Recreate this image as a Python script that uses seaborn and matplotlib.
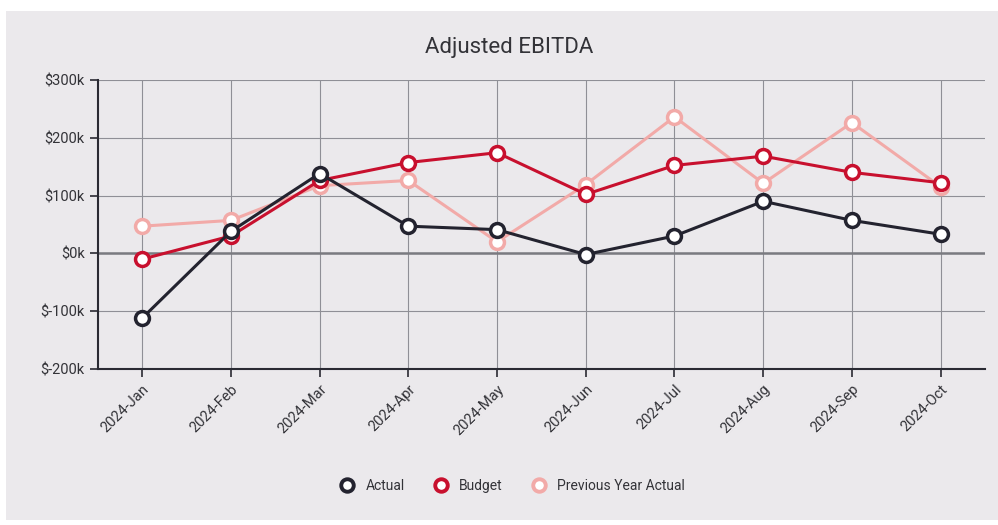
import pandas as pd
import seaborn as sns
import matplotlib.pyplot as plt
from matplotlib.lines import Line2D
from matplotlib.patches import Rectangle
from matplotlib.ticker import FuncFormatter

months = ['2024-Jan', '2024-Feb', '2024-Mar', '2024-Apr', '2024-May',
          '2024-Jun', '2024-Jul', '2024-Aug', '2024-Sep', '2024-Oct']
actual = [-112, 38, 138, 47, 41, -2, 30, 90, 57, 33]
budget = [-10, 30, 126, 157, 174, 102, 152, 168, 140, 122]
prev_year = [47, 57, 117, 126, 20, 119, 236, 121, 226, 115]

series_names = ['Actual', 'Budget', 'Previous Year Actual']
colors = ['#23232f', '#c8102e', '#f2aaa8']

bg = '#ebe9ec'

sns.set_style('white')
plt.rcParams['font.family'] = ['Roboto', 'DejaVu Sans']

df = pd.DataFrame({
    'Month': months * 3,
    'Value': [v * 1000 for v in actual + budget + prev_year],
    'Series': [s for s in series_names for _ in months],
})

fig = plt.figure(figsize=(9.98, 5.25), dpi=100, facecolor='white')
# grey card behind the chart, thin white margin around it
fig.patches.append(Rectangle((0.006, 0.01), 0.994, 0.97, transform=fig.transFigure,
                             facecolor=bg, edgecolor='none', zorder=-1))

ax = fig.add_axes([0.098, 0.297, 0.889, 0.551])
ax.set_facecolor(bg)

sns.lineplot(data=df, x='Month', y='Value', hue='Series', hue_order=series_names,
             palette=colors, marker='o', markersize=10, linewidth=2.2,
             sort=False, legend=False, ax=ax)

# white markers with coloured outline, stack order like the original
for line, c, z in zip(ax.lines, colors, [4, 3, 2]):
    line.set_markerfacecolor('white')
    line.set_markeredgecolor(c)
    line.set_markeredgewidth(2.5)
    line.set_zorder(z)

ax.set_xlim(-0.5, 9.5)
ax.set_ylim(-200000, 300000)
ax.set_yticks([-200000, -100000, 0, 100000, 200000, 300000])
ax.yaxis.set_major_formatter(FuncFormatter(lambda v, p: f'${int(v / 1000)}k'))

ax.grid(True, color='#8f8f96', linewidth=0.8)
ax.set_axisbelow(True)
ax.axhline(0, color='#7a7a80', linewidth=1.8, zorder=1)

for side in ['top', 'right']:
    ax.spines[side].set_visible(False)
for side in ['left', 'bottom']:
    ax.spines[side].set_color('#2a2a33')
    ax.spines[side].set_linewidth(1.5)

ax.tick_params(axis='both', direction='out', length=6, width=1.2, color='#2a2a33',
               labelsize=10.5, labelcolor='#333338', left=True, bottom=True)
plt.setp(ax.get_xticklabels(), rotation=45, ha='right', rotation_mode='anchor')

ax.set_xlabel('')
ax.set_ylabel('')
fig.text(0.51, 0.91, 'Adjusted EBITDA', ha='center', va='center',
         fontsize=16, color='#333338')

handles = [Line2D([], [], color=c, marker='o', linestyle='', markersize=9,
                  markerfacecolor='white', markeredgecolor=c, markeredgewidth=2.8)
           for c in colors]
fig.legend(handles, series_names, loc='center', bbox_to_anchor=(0.51, 0.075),
           ncol=3, frameon=False, fontsize=10, handletextpad=0.3,
           columnspacing=1.6, labelcolor='#333338')

fig.savefig('out.png', dpi=100, facecolor='white')
